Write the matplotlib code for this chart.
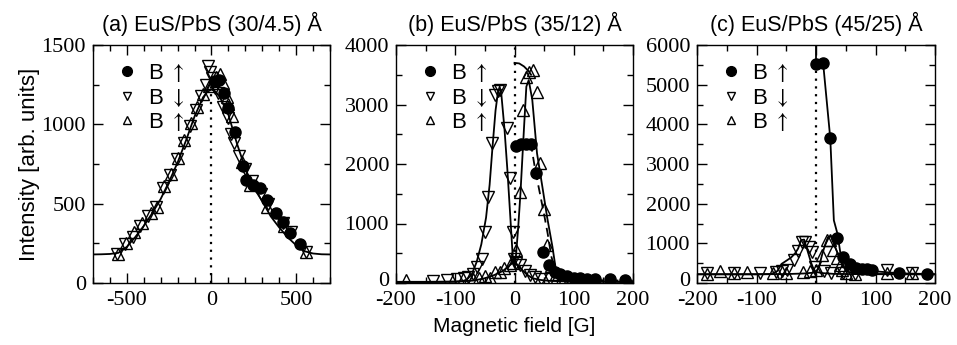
import matplotlib
matplotlib.use("Agg")
import matplotlib.pyplot as plt
from matplotlib.lines import Line2D
from matplotlib.ticker import MultipleLocator
from matplotlib.transforms import ScaledTranslation

plt.rcParams["mathtext.fontset"] = "stixsans"
plt.rcParams["axes.unicode_minus"] = False

# ---------------- data ----------------
titles = ["(a) EuS/PbS (30/4.5) Å", "(b) EuS/PbS (35/12) Å", "(c) EuS/PbS (45/25) Å"]
legend_labels = [r"B $\uparrow$", r"B $\downarrow$", r"B $\uparrow$"]

# panel (a)
curve_a_x = [-700, -650, -600, -550, -500, -450, -400, -350, -300, -250, -200, -150, -100, -50, -25, 0,
             25, 50, 100, 150, 200, 250, 300, 350, 400, 450, 500, 550, 600, 650, 700]
curve_a_y = [180, 181, 183, 190, 228, 290, 360, 440, 530, 640, 760, 900, 1050, 1170, 1205, 1220,
             1205, 1170, 1060, 880, 720, 600, 515, 420, 350, 288, 238, 200, 186, 181, 180]
fill_a_x = [20, 45, 75, 100, 140, 185, 205, 245, 285, 330, 380, 420, 465, 525]
fill_a_y = [1270, 1280, 1200, 1100, 950, 735, 650, 620, 597, 520, 440, 385, 315, 245]
down_a_x = [-560, -510, -465, -420, -375, -330, -285, -245, -205, -165, -128, -90, -60, -35, -20, -8,
            5, 20, 40, 70, 95, 115, 135, 160, 200, 240, 290, 335, 420, 470, 560]
down_a_y = [185, 245, 290, 360, 420, 480, 600, 680, 780, 880, 990, 1090, 1180, 1250, 1370, 1330,
            1290, 1230, 1200, 1110, 1040, 940, 880, 800, 720, 640, 560, 500, 380, 320, 195]
up_a_x = [-555, -505, -455, -410, -360, -320, -278, -238, -198, -160, -120, -85, -50, -15, 5, 25,
          50, 70, 90, 100, 120, 180, 230, 330, 430, 560]
up_a_y = [185, 250, 320, 380, 440, 480, 610, 690, 790, 900, 1010, 1110, 1190, 1240, 1260, 1300,
          1320, 1260, 1170, 1130, 1050, 760, 620, 480, 360, 195]

# panel (b)
fill_b_x = [2, 11, 19, 28, 37, 48, 59, 68, 76, 88, 100, 111, 122, 136, 162, 187]
fill_b_y = [2300, 2330, 2330, 2330, 1850, 520, 300, 185, 150, 110, 90, 80, 75, 70, 60, 55]
dash_b_x = [0, 10, 20, 28, 35, 43, 50, 56, 62, 70, 80, 100, 150, 200]
dash_b_y = [2300, 2320, 2330, 2320, 1900, 1500, 1150, 830, 450, 180, 90, 60, 45, 40]
down_b_x = [-137, -114, -97, -85, -78, -70, -63, -55, -50, -44, -38, -33, -28, -24, -13, -8, -3, -1,
            3, 10, 18, 26, 35, 45, 60, 80]
down_b_y = [40, 50, 60, 80, 100, 150, 270, 410, 850, 1450, 2345, 3160, 3230, 3240, 2600, 1760, 860, 400,
            330, 300, 210, 140, 100, 70, 60, 40]
down_line_b_x = [-200, -150, -100, -88, -80, -72, -64, -56, -48, -42, -37, -32, -28, -25, -22, -17, -12,
                 -7, -3, 0, 5, 10, 20, 30, 45, 60, 100, 150, 200]
down_line_b_y = [15, 15, 20, 30, 60, 150, 350, 650, 1100, 1650, 2300, 2900, 3200, 3300, 3150, 2600, 1900,
                 1100, 450, 330, 300, 250, 150, 80, 50, 35, 25, 20, 15]
up_b_x = [-183, -70, -60, -50, -42, -33, -25, -17, -8, -3, 3, 10, 14, 19, 24, 32, 38, 43, 49, 55, 61, 70, 80]
up_b_y = [45, 60, 80, 110, 90, 190, 190, 245, 300, 330, 550, 1530, 2900, 3465, 3550, 3575, 3210, 2010,
          1250, 635, 280, 150, 80]
up_line_b_x = [-200, -150, -100, -70, -50, -35, -20, -10, -3, 2, 6, 10, 16, 20, 24, 30, 38, 47, 55, 64,
               69, 75, 85, 100, 150, 200]
up_line_b_y = [20, 20, 25, 40, 80, 130, 200, 280, 340, 400, 900, 1500, 2600, 3300, 3410, 3080, 2180, 1620,
               1110, 610, 280, 120, 60, 40, 25, 20]
arc_b_x = [0, 8, 16, 24, 28]
arc_b_y = [3700, 3690, 3640, 3560, 3500]

# panel (c)
fill_c_x = [0, 12, 24, 35, 46, 57, 67, 77, 85, 94, 139, 186]
fill_c_y = [5513, 5540, 3645, 1126, 663, 478, 370, 353, 350, 320, 245, 227]
fill_line_c_x = [0, 0, 12, 24, 30, 36, 42, 50, 57, 67, 80, 95, 140, 186]
fill_line_c_y = [6300, 5513, 5540, 3645, 1580, 1245, 655, 470, 400, 360, 340, 300, 245, 227]
down_c_x = [-183, -138, -94, -68, -57, -49, -37, -30, -24, -18, -12, -7, -2, 13, 25, 46, 65, 119, 161]
down_c_y = [245, 260, 260, 280, 300, 320, 580, 800, 1040, 1040, 915, 790, 400, 300, 250, 245, 230, 320, 260]
down_line_c_x = [-200, -100, -75, -65, -58, -50, -42, -35, -30, -25, -20, -16, -12, -8, -4, 0, 10, 30,
                 60, 100, 200]
down_line_c_y = [220, 220, 225, 300, 480, 560, 640, 750, 870, 1080, 1095, 900, 700, 500, 350, 280, 250,
                 230, 225, 222, 220]
up_c_x = [-183, -161, -138, -116, -72, -50, -22, -10, 0, 10, 19, 24, 29, 35, 40, 43, 50, 65, 119, 161]
up_c_y = [230, 290, 240, 270, 250, 260, 280, 290, 330, 705, 1085, 1085, 830, 620, 450, 330, 260, 230,
          260, 240]
up_line_c_x = [-200, -100, -50, -20, -5, 0, 5, 10, 15, 20, 25, 30, 35, 40, 45, 55, 70, 100, 200]
up_line_c_y = [220, 220, 225, 240, 260, 280, 400, 700, 950, 1150, 1180, 1000, 800, 600, 420, 280, 230,
               225, 220]

zero_line_top = [1250, 4000, 5500]
xlims = [(-700, 700), (-200, 200), (-200, 200)]
ylims = [(0, 1500), (0, 4000), (0, 6000)]
x_major = [500, 100, 100]
x_minor = [100, 50, 50]
y_major = [500, 1000, 1000]
y_minor = [250, 500, 500]

# ---------------- style ----------------
SANS = ["Liberation Sans", "DejaVu Sans"]
SERIF = ["Liberation Serif", "DejaVu Serif"]
LW = 1.3
MS = 8

fig = plt.figure(figsize=(9.57, 3.45), dpi=100)
W, H = 957.0, 345.0
boxes = [(93, 237), (396, 237), (697, 238)]
axes = []
for (l, w) in boxes:
    axes.append(fig.add_axes([l / W, (H - 283) / H, w / W, 238 / H]))

def markers(ax, x, y, kind):
    if kind == "fill":
        ax.plot(x, y, ls="none", marker="o", ms=MS, mfc="black", mec="black", zorder=3)
    elif kind == "down":
        ax.plot(x, y, ls="none", marker="v", ms=MS + 1, mfc="none", mec="black", mew=1.0, zorder=3)
    else:
        ax.plot(x, y, ls="none", marker="^", ms=MS + 1, mfc="none", mec="black", mew=1.0, zorder=3)

def line(ax, x, y, ls="-"):
    ax.plot(x, y, color="black", lw=LW, ls=ls, zorder=2)

# (a)
ax = axes[0]
line(ax, curve_a_x, curve_a_y)
markers(ax, fill_a_x, fill_a_y, "fill")
markers(ax, down_a_x, down_a_y, "down")
markers(ax, up_a_x, up_a_y, "up")

# (b)
ax = axes[1]
line(ax, down_line_b_x, down_line_b_y)
line(ax, up_line_b_x, up_line_b_y)
line(ax, dash_b_x, dash_b_y, ls=(0, (5, 3)))
line(ax, arc_b_x, arc_b_y)
markers(ax, fill_b_x, fill_b_y, "fill")
markers(ax, down_b_x, down_b_y, "down")
markers(ax, up_b_x, up_b_y, "up")

# (c)
ax = axes[2]
line(ax, fill_line_c_x, fill_line_c_y)
line(ax, down_line_c_x, down_line_c_y)
line(ax, up_line_c_x, up_line_c_y)
markers(ax, fill_c_x, fill_c_y, "fill")
markers(ax, down_c_x, down_c_y, "down")
markers(ax, up_c_x, up_c_y, "up")

handles = [
    Line2D([], [], ls="none", marker="o", ms=7, mfc="black", mec="black"),
    Line2D([], [], ls="none", marker="v", ms=6, mfc="none", mec="black", mew=1.0),
    Line2D([], [], ls="none", marker="^", ms=6, mfc="none", mec="black", mew=1.0),
]

for i, ax in enumerate(axes):
    ax.vlines(0, 0, zero_line_top[i], colors="black", linestyles=(0, (1, 2.5)), lw=1.6, zorder=1)
    ax.set_xlim(*xlims[i])
    ax.set_ylim(*ylims[i])
    ax.xaxis.set_major_locator(MultipleLocator(x_major[i]))
    ax.xaxis.set_minor_locator(MultipleLocator(x_minor[i]))
    ax.yaxis.set_major_locator(MultipleLocator(y_major[i]))
    ax.yaxis.set_minor_locator(MultipleLocator(y_minor[i]))
    ax.tick_params(which="both", direction="in", top=True, right=True, width=1.0, colors="black")
    ax.tick_params(which="major", length=7, labelsize=16)
    ax.tick_params(axis="x", which="major", pad=6)
    ax.tick_params(axis="y", which="major", pad=5)
    ax.tick_params(which="minor", length=4.5)
    for lab in ax.get_xticklabels() + ax.get_yticklabels():
        lab.set_fontfamily(SERIF)
    for s in ax.spines.values():
        s.set_linewidth(1.0)
    ax.set_title(titles[i], fontsize=15.5, family=SANS, pad=10)
    leg = ax.legend(handles, legend_labels, loc="upper left", frameon=False,
                    bbox_to_anchor=(0.05, 0.985), handlelength=0.8, handletextpad=0.55,
                    labelspacing=0.12, borderaxespad=0.2, prop={"family": SANS, "size": 16})

fig.text(30 / W, 1 - 164 / H, "Intensity [arb. units]", rotation=90, ha="center", va="center",
         fontsize=16, family=SANS)
fig.text(514 / W, 1 - 326 / H, "Magnetic field [G]", ha="center", va="center",
         fontsize=15, family=SANS)

# nudge the bottom "0" label of panels (b) and (c) up a little, as in the reference,
# so it does not collide with the "-200" x label
fig.canvas.draw()
for ax in axes[1:]:
    for tick in ax.yaxis.get_major_ticks():
        if abs(tick.get_loc()) < 1e-9:
            lab = tick.label1
            lab.set_transform(lab.get_transform() + ScaledTranslation(0, 3 / 72, fig.dpi_scale_trans))

fig.savefig("out.png", dpi=100)
